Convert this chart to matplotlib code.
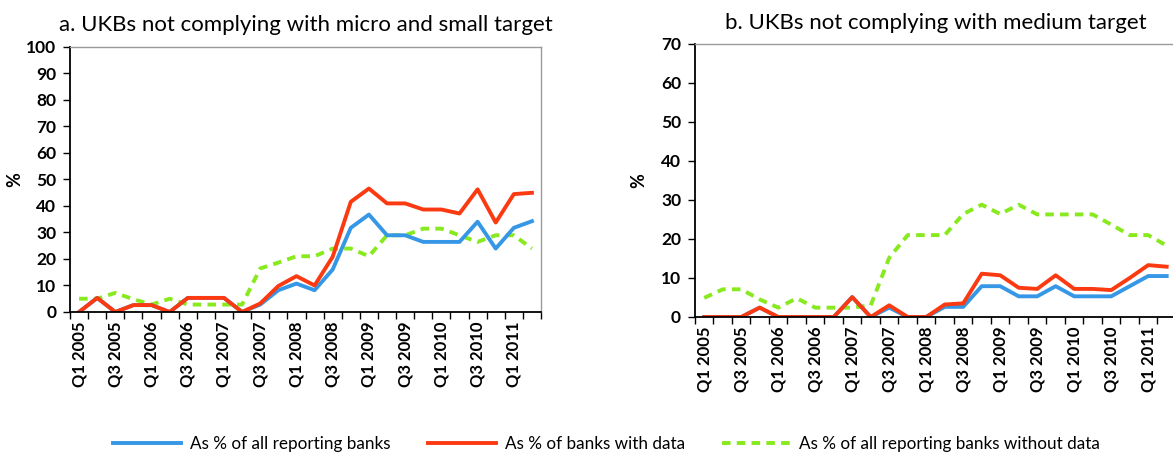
import matplotlib.pyplot as plt
from matplotlib.lines import Line2D

plt.rcParams['font.family'] = ['Lato', 'DejaVu Sans']

# quarters Q1 2005 .. Q2 2011
quarters = [f"Q{q} {y}" for y in range(2005, 2012) for q in (1, 2, 3, 4)][:26]

# a. micro and small target
a_all = [0, 5.3, 0, 2.6, 2.6, 0, 5.3, 5.3, 5.3, 0, 2.8, 8.2, 10.7, 8.2, 16,
         31.7, 36.7, 28.9, 28.9, 26.4, 26.4, 26.4, 34, 23.9, 31.7, 34.2]
a_with = [0, 5.3, 0, 2.6, 2.6, 0, 5.3, 5.3, 5.3, 0, 3.2, 9.8, 13.5, 10, 20.8,
          41.5, 46.5, 40.9, 40.9, 38.6, 38.6, 37.1, 46.2, 33.7, 44.4, 44.9]
a_without = [5, 5, 7.2, 4.8, 2.8, 5, 2.8, 2.8, 2.8, 2.8, 16.4, 18.6, 21, 21, 23.9,
             23.9, 21, 28.9, 28.9, 31.4, 31.4, 28.9, 26.4, 28.9, 28.9, 23.9]

# b. medium target
b_all = [0, 0, 0, 2.4, 0, 0, 0, 0, 5.1, 0, 2.4, 0, 0, 2.6, 2.6,
         7.9, 7.9, 5.3, 5.3, 7.9, 5.3, 5.3, 5.3, 7.9, 10.5, 10.5]
b_with = [0, 0, 0, 2.4, 0, 0, 0, 0, 5.1, 0, 3.0, 0, 0, 3.2, 3.5,
          11.1, 10.7, 7.5, 7.2, 10.7, 7.2, 7.2, 6.9, 10, 13.3, 12.9]
b_without = [4.9, 7.1, 7.1, 4.5, 2.4, 4.8, 2.4, 2.4, 2.4, 3, 15.2, 21, 21, 21, 26.4,
             28.8, 26.4, 28.8, 26.3, 26.3, 26.3, 26.3, 23.7, 21, 21, 18.3]

labels = ["As % of all reporting banks", "As % of banks with data",
          "As % of all reporting banks without data"]
BLUE, RED, GREEN = "#3697e6", "#fb3a12", "#88ea1e"


def draw(ax, all_, with_, without, ymax, title, ylabelpad):
    x = range(len(quarters))
    ax.plot(x, without, color=GREEN, lw=2.8, ls=(0, (2.2, 1.6)))
    ax.plot(x, all_, color=BLUE, lw=2.8)
    ax.plot(x, with_, color=RED, lw=2.8)
    ax.set_xlim(-0.5, len(quarters) - 0.5)
    ax.set_ylim(0, ymax)
    ax.set_yticks(range(0, ymax + 1, 10))
    ax.set_xticks(list(x)[::2])
    ax.set_xticklabels(quarters[::2], rotation=90, fontsize=12, fontweight='bold')
    ax.set_xticks([i - 0.5 for i in range(len(quarters) + 1)], minor=True)
    ax.tick_params(axis='x', which='major', length=0, pad=7)
    ax.tick_params(axis='x', which='minor', length=5, width=1, direction='out')
    ax.tick_params(axis='y', length=5, width=1, labelsize=12.5, pad=5)
    for t in ax.get_yticklabels():
        t.set_fontweight('bold')
    for s in ('left', 'bottom'):
        ax.spines[s].set_linewidth(1.3)
        ax.spines[s].set_color('black')
    for s in ('top', 'right'):
        ax.spines[s].set_color('#9a9a9a')
        ax.spines[s].set_linewidth(1.0)
    ax.set_ylabel('%', fontsize=13, fontweight='bold', labelpad=ylabelpad)
    ax.set_title(title, fontsize=16, pad=11)


fig = plt.figure(figsize=(11.73, 4.55), dpi=100)
ax1 = fig.add_axes([0.0597, 0.3143, 0.4015, 0.5835])
ax2 = fig.add_axes([0.5925, 0.3033, 0.410, 0.600])

draw(ax1, a_all, a_with, a_without, 100,
     "a. UKBs not complying with micro and small target", 2)
draw(ax2, b_all, b_with, b_without, 70,
     "b. UKBs not complying with medium target", 10)

handles = [Line2D([], [], color=BLUE, lw=2.8),
           Line2D([], [], color=RED, lw=2.8),
           Line2D([], [], color=GREEN, lw=2.8, ls=(0, (2.2, 1.6)))]
fig.legend(handles, labels, loc='center', bbox_to_anchor=(0.517, 0.025), ncol=3,
           frameon=False, fontsize=12.3, handlelength=4.0, columnspacing=2.2,
           handletextpad=0.5)

fig.savefig("out.png", dpi=100)
